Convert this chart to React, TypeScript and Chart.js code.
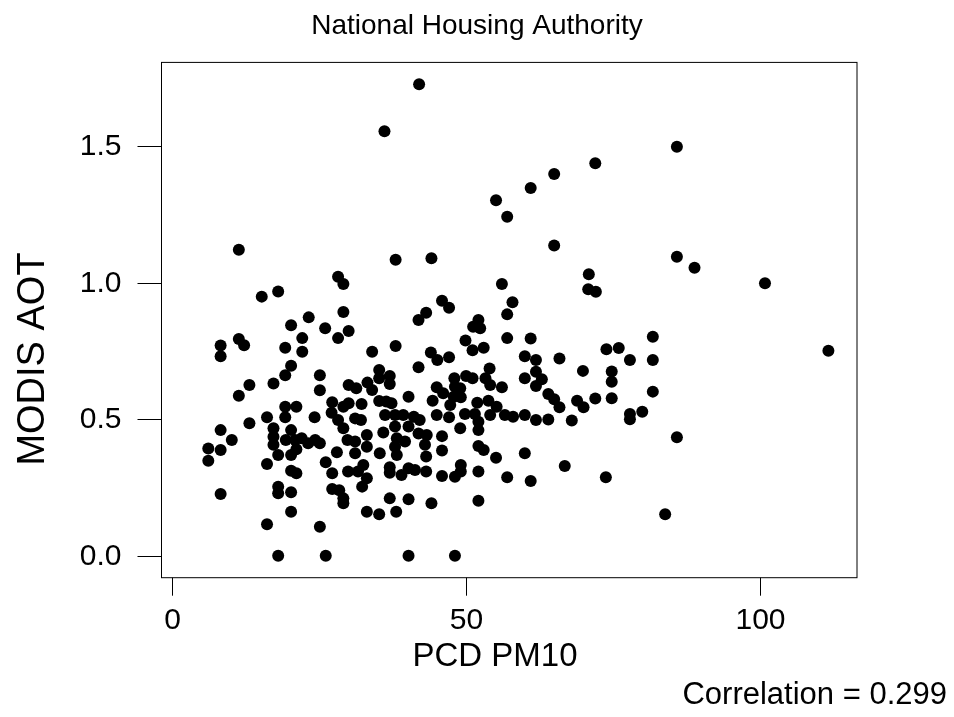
import React, { useEffect, useRef } from "react";
import { Chart, registerables } from "chart.js";

Chart.register(...registerables);

// ---- text ----
const titleText = "National Housing Authority";
const xTitleText = "PCD PM10";
const yTitleText = "MODIS AOT";
const noteText = "Correlation = 0.299";

// ---- axes ----
const xTicks = [0, 50, 100];
const yTicks = [0, 0.5, 1.0, 1.5];
const xLimits = [-1.87, 116.57];
const yLimits = [-0.0806, 1.807];

// ---- data: [PCD PM10, MODIS AOT] ----
const upperPoints: [number, number][] = [
  [42.0, 1.727], [36.1, 1.555], [85.9, 1.498], [72.0, 1.438], [65.0, 1.398],
  [61.0, 1.347], [55.1, 1.302], [57.0, 1.242], [11.3, 1.121], [65.0, 1.136],
  [38.0, 1.084], [44.1, 1.09], [85.9, 1.095], [88.9, 1.055], [70.9, 1.031],
  [100.9, 0.998], [111.7, 0.751],
];

const leftUpperPoints: [number, number][] = [
  [28.2, 1.022], [29.1, 0.995], [15.2, 0.949], [18.0, 0.968], [29.1, 0.893],
  [23.2, 0.873], [20.2, 0.844], [26.0, 0.833], [30.0, 0.823], [28.2, 0.797],
  [22.1, 0.797], [11.3, 0.794], [12.2, 0.771], [8.2, 0.77], [8.2, 0.731],
  [19.2, 0.762], [22.1, 0.747], [20.2, 0.696], [19.2, 0.661], [17.2, 0.631],
  [13.1, 0.625], [11.3, 0.586], [25.1, 0.661], [25.1, 0.606], [30.0, 0.625],
  [19.2, 0.546], [21.1, 0.546], [27.2, 0.562], [29.1, 0.546],
];

const midUpperPoints: [number, number][] = [
  [56.1, 0.995], [45.9, 0.934], [47.1, 0.908], [43.2, 0.89], [41.9, 0.863],
  [52.1, 0.863], [51.2, 0.839], [52.4, 0.833], [49.9, 0.788], [51.1, 0.753],
  [53.0, 0.762], [34.0, 0.747], [38.0, 0.768], [44.0, 0.744], [45.1, 0.717],
  [47.1, 0.727], [41.9, 0.69], [54.0, 0.686], [35.2, 0.68], [35.2, 0.65],
  [37.0, 0.658], [37.0, 0.629], [31.3, 0.613], [33.2, 0.634], [34.0, 0.607],
  [40.2, 0.582], [45.0, 0.617], [48.0, 0.65], [50.0, 0.658], [51.1, 0.65],
  [53.3, 0.65], [54.1, 0.625], [56.1, 0.617], [48.1, 0.619], [49.0, 0.613],
  [47.9, 0.582], [49.1, 0.58], [46.1, 0.595], [44.3, 0.568], [47.3, 0.552],
  [51.9, 0.56], [53.8, 0.568], [55.2, 0.546], [35.2, 0.567], [36.4, 0.565],
  [37.3, 0.558], [32.2, 0.556], [30.0, 0.558],
];

const rightUpperPoints: [number, number][] = [
  [70.8, 0.976], [72.1, 0.967], [57.9, 0.928], [57.0, 0.884], [57.0, 0.797],
  [61.0, 0.796], [60.0, 0.731], [61.9, 0.717], [65.9, 0.722], [61.9, 0.674],
  [62.9, 0.646], [60.0, 0.65], [61.9, 0.622], [69.9, 0.677], [73.9, 0.756],
  [76.0, 0.761], [77.9, 0.717], [81.8, 0.802], [81.8, 0.717], [81.8, 0.601],
  [74.8, 0.675], [74.8, 0.637], [74.8, 0.577], [72.0, 0.576], [68.9, 0.568],
  [70.0, 0.544], [64.0, 0.592], [65.0, 0.573], [65.9, 0.544],
];

const leftLowerPoints: [number, number][] = [
  [16.1, 0.507], [13.1, 0.485], [19.2, 0.507], [24.2, 0.507], [27.1, 0.524],
  [28.2, 0.497], [29.1, 0.467], [8.2, 0.46], [10.1, 0.424], [8.2, 0.387],
  [6.1, 0.393], [6.1, 0.348], [8.2, 0.226], [17.2, 0.467], [17.2, 0.436],
  [17.2, 0.406], [16.1, 0.336], [18.0, 0.369], [20.2, 0.46], [19.3, 0.424],
  [20.9, 0.424], [22.0, 0.43], [23.1, 0.412], [24.3, 0.424], [25.1, 0.412],
  [21.1, 0.39], [20.2, 0.369], [18.0, 0.253], [18.0, 0.229], [20.2, 0.232],
  [20.2, 0.311], [21.1, 0.302], [20.2, 0.161], [16.1, 0.115], [25.1, 0.106],
  [18.0, 0.0], [26.1, 0.0], [26.1, 0.342], [28.0, 0.379], [27.2, 0.302],
  [27.2, 0.244], [28.4, 0.24], [29.1, 0.21], [29.1, 0.192],
];

const midLowerPoints: [number, number][] = [
  [36.2, 0.515], [37.9, 0.515], [39.3, 0.515], [41.1, 0.509], [42.1, 0.497],
  [45.0, 0.515], [47.1, 0.507], [49.8, 0.519], [51.5, 0.519], [52.1, 0.491],
  [54.1, 0.515], [56.6, 0.515], [31.1, 0.503], [32.1, 0.497], [35.9, 0.451],
  [37.9, 0.473], [40.2, 0.473], [38.2, 0.43], [39.6, 0.418], [37.9, 0.399],
  [35.3, 0.375], [38.2, 0.369], [41.9, 0.448], [43.3, 0.442], [43.0, 0.406],
  [43.2, 0.363], [45.9, 0.438], [45.9, 0.385], [49.0, 0.467], [52.1, 0.46],
  [52.1, 0.402], [53.0, 0.387], [55.1, 0.359], [29.8, 0.424], [31.1, 0.418],
  [33.1, 0.442], [33.1, 0.399], [31.1, 0.375], [29.9, 0.308], [31.6, 0.308],
  [32.5, 0.332], [33.1, 0.284], [32.3, 0.253], [37.0, 0.324], [37.0, 0.304],
  [39.0, 0.296], [40.2, 0.32], [41.3, 0.314], [43.2, 0.308], [45.9, 0.292],
  [48.1, 0.289], [49.1, 0.308], [49.1, 0.332], [52.1, 0.308], [37.0, 0.21],
  [40.2, 0.207], [44.1, 0.192], [52.1, 0.201], [33.1, 0.161], [35.2, 0.152],
  [38.1, 0.161], [40.2, 0.0], [48.1, 0.0],
];

const rightLowerPoints: [number, number][] = [
  [58.0, 0.509], [60.0, 0.515], [61.9, 0.497], [64.0, 0.499], [68.0, 0.495],
  [77.9, 0.519], [77.9, 0.5], [80.0, 0.527], [60.0, 0.375], [66.8, 0.329],
  [57.0, 0.287], [61.0, 0.274], [73.8, 0.287], [83.9, 0.152], [85.9, 0.434],
];

const FONT = '"Liberation Sans", Arial, Helvetica, sans-serif';

const rStylePlugin = {
  id: "rStyle",
  afterDraw(chart: any) {
    const { ctx, chartArea: a, scales } = chart;
    const x = scales.x;
    const y = scales.y;
    ctx.save();
    ctx.strokeStyle = "#000";
    ctx.lineWidth = 1;
    ctx.strokeRect(a.left, a.top, a.right - a.left, a.bottom - a.top);

    ctx.fillStyle = "#000";
    // x ticks
    ctx.font = `30px ${FONT}`;
    ctx.textAlign = "center";
    ctx.textBaseline = "middle";
    xTicks.forEach((v) => {
      const px = Math.round(x.getPixelForValue(v)) + 0.5;
      ctx.beginPath();
      ctx.moveTo(px, a.bottom);
      ctx.lineTo(px, a.bottom + 18);
      ctx.stroke();
      ctx.fillText(String(v), px, a.bottom + 43);
    });
    // y ticks
    ctx.textAlign = "right";
    yTicks.forEach((v) => {
      const py = Math.round(y.getPixelForValue(v)) + 0.5;
      ctx.beginPath();
      ctx.moveTo(a.left - 24, py);
      ctx.lineTo(a.left, py);
      ctx.stroke();
      ctx.fillText(v.toFixed(1), a.left - 40, py);
    });

    // titles
    ctx.textAlign = "center";
    ctx.font = `28px ${FONT}`;
    ctx.fillText(titleText, 477, 26);

    ctx.font = `33px ${FONT}`;
    ctx.fillText(xTitleText, 495, 657);

    ctx.font = `38px ${FONT}`;
    ctx.save();
    ctx.translate(34, 359);
    ctx.rotate(-Math.PI / 2);
    ctx.fillText(yTitleText, 0, 0);
    ctx.restore();

    ctx.font = `31px ${FONT}`;
    ctx.textAlign = "right";
    ctx.fillText(noteText, 947, 695);
    ctx.restore();
  },
};

export default function App() {
  const ref = useRef<HTMLCanvasElement | null>(null);

  useEffect(() => {
    if (!ref.current) return;
    const all = [
      ...upperPoints,
      ...leftUpperPoints,
      ...midUpperPoints,
      ...rightUpperPoints,
      ...leftLowerPoints,
      ...midLowerPoints,
      ...rightLowerPoints,
    ].map(([px, py]) => ({ x: px, y: py }));

    const chart = new Chart(ref.current, {
      type: "scatter",
      data: {
        datasets: [
          {
            data: all,
            backgroundColor: "#000",
            borderWidth: 0,
            pointRadius: 6,
            pointHoverRadius: 6,
          },
        ],
      },
      options: {
        animation: false,
        responsive: false,
        devicePixelRatio: 1,
        layout: { padding: { left: 161.5, right: 97, top: 62.4, bottom: 139.3 } },
        plugins: { legend: { display: false }, tooltip: { enabled: false } },
        scales: {
          x: { type: "linear", min: xLimits[0], max: xLimits[1], display: false },
          y: { type: "linear", min: yLimits[0], max: yLimits[1], display: false },
        },
      },
      plugins: [rStylePlugin],
    });
    return () => chart.destroy();
  }, []);

  return (
    <div style={{ position: "absolute", left: 0, top: 0, width: 954, height: 717, background: "#fff" }}>
      <canvas ref={ref} width={954} height={717} style={{ display: "block" }} />
    </div>
  );
}
